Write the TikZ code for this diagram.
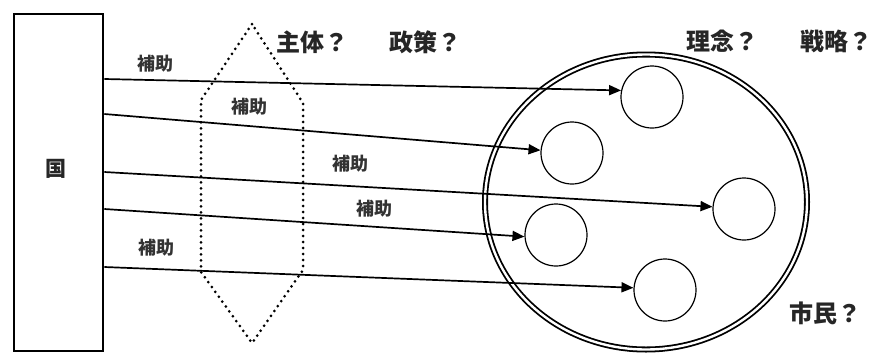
\documentclass[tikz,border=0pt]{standalone}
\usepackage{fontspec}
\setmainfont{Noto Sans CJK JP}
\usetikzlibrary{arrows.meta,shapes.geometric,calc}
\begin{document}
\begin{tikzpicture}[x=1pt,y=-1pt,
  bigtext/.style={font=\fontsize{24pt}{26pt}\selectfont\bfseries, text=black!85, inner sep=0},
  hojo/.style={font=\fontsize{18pt}{20pt}\selectfont\bfseries, text=black!80, inner sep=0},
  small/.style={circle, draw, line width=1.2pt, minimum size=62pt, inner sep=0},
  arr/.style={line width=1.7pt, -{Triangle[length=12pt,width=10pt]}},
  dotline/.style={line width=3pt, dash pattern=on 0pt off 6pt, line cap=round}
]
\useasboundingbox (0,0) rectangle (876,354);
\fill[white] (0,0) rectangle (876,354);

% state box
\node[draw, line width=2.3pt, minimum width=89pt, minimum height=337pt, inner sep=0, anchor=north west] (kuni) at (13,13) {};
\node[bigtext, font=\fontsize{21pt}{23pt}\selectfont\bfseries] (kunilabel) at (56,169) {国};

% dotted hexagon
\draw[dotline] (252,24) -- (201,100) -- (201,272) -- (252,343) -- (303,270) -- (303,103) -- cycle;

% big double ellipse
\node[ellipse, draw, line width=1.8pt, double=white, double distance=2.4pt, minimum width=322pt, minimum height=295pt, inner sep=0] (city) at (646,202) {};

% small circles
\node[small] (c1) at (652,97) {};
\node[small] (c2) at (572,153) {};
\node[small] (c3) at (744,209) {};
\node[small] (c4) at (556,235) {};
\node[small] (c5) at (665,290) {};

% start points on the box edge
\coordinate (s1) at (kuni.east |- 0,79);
\coordinate (s2) at (kuni.east |- 0,114);
\coordinate (s3) at (kuni.east |- 0,172);
\coordinate (s4) at (kuni.east |- 0,209);
\coordinate (s5) at (kuni.east |- 0,267);

\draw[arr] (s1) -- (c1.168);
\draw[arr] (s2) -- (c2.175);
\draw[arr] (s3) -- (c3.176);
\draw[arr] (s4) -- (c4.183);
\draw[arr] (s5) -- (c5.176);

% labels
\node[hojo] (h1) at (155,64) {補助};
\node[hojo] (h2) at (249,107) {補助};
\node[hojo] (h3) at (350,164) {補助};
\node[hojo] (h4) at (374,209) {補助};
\node[hojo] (h5) at (156,248) {補助};

\node[bigtext] (shutai) at (312,42) {主体？};
\node[bigtext] (seisaku) at (425,42) {政策？};
\node[bigtext] (rinen) at (722,41) {理念？};
\node[bigtext] (senryaku) at (836,41) {戦略？};
\node[bigtext] (shimin) at (825,313) {市民？};
\end{tikzpicture}
\end{document}
